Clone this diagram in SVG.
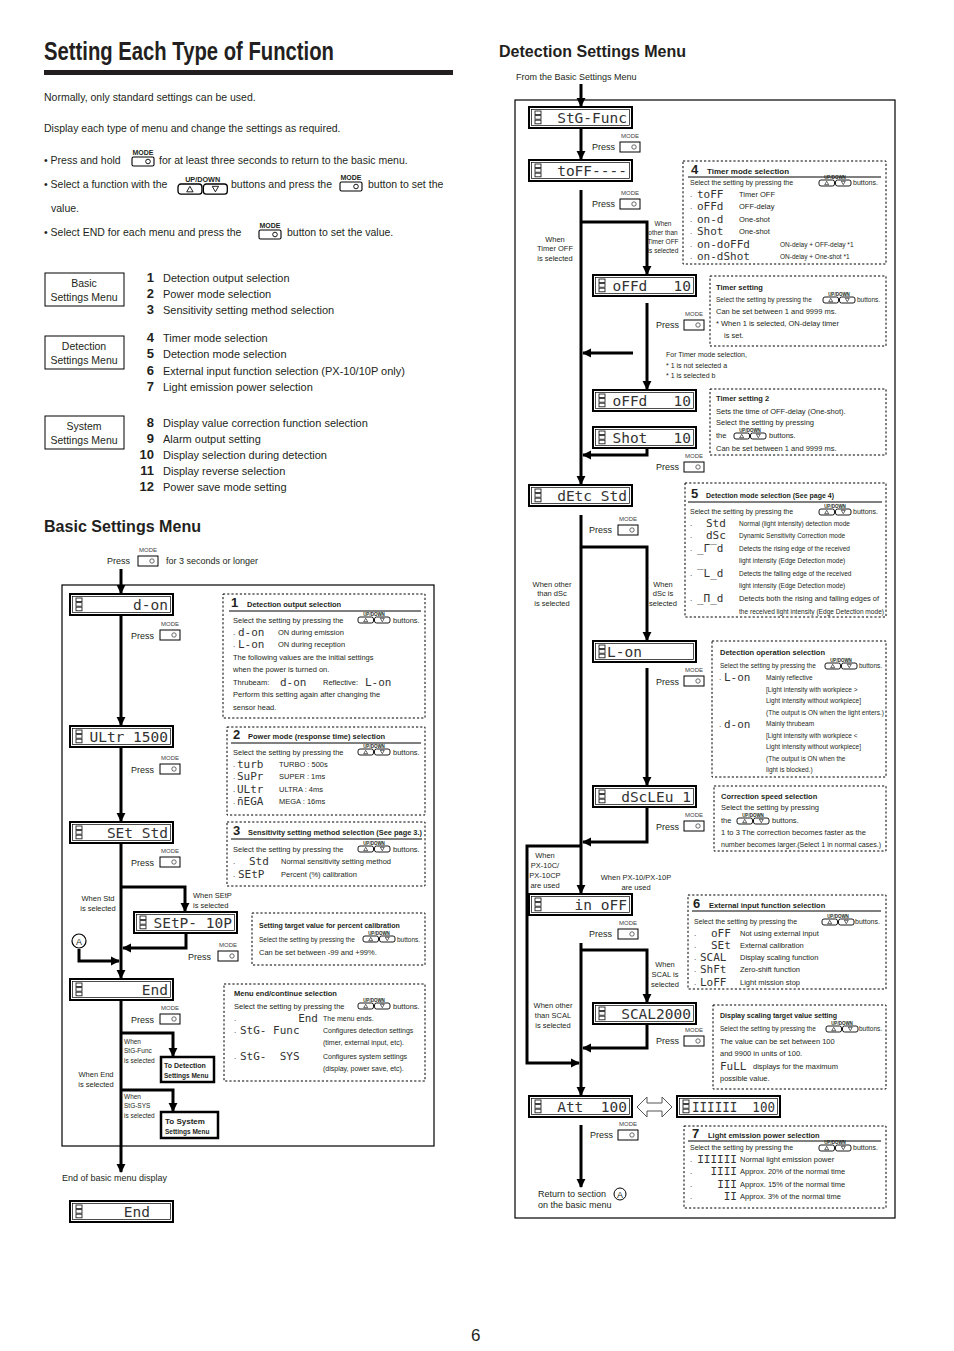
<svg xmlns="http://www.w3.org/2000/svg" xmlns:xlink="http://www.w3.org/1999/xlink" width="954" height="1351" viewBox="0 0 954 1351">
<style>
text{font-family:"Liberation Sans",Arial,sans-serif;fill:#231f20}
.b{font-weight:bold}
.f11{font-size:11px}.f10{font-size:10.5px}.f9{font-size:9px}.f8{font-size:8px}.f75{font-size:7.5px}.f7{font-size:7px}.f65{font-size:6.5px}
.sg{font-family:"DejaVu Sans Mono","Liberation Mono",monospace;font-size:11px;fill:#333}
.dt{font-family:"DejaVu Sans Mono","Liberation Mono",monospace;font-size:14.5px;fill:#333}
.num{font-weight:bold;font-size:13px}
.dbox{fill:#fff;stroke:#000;stroke-width:2}
.dinner{fill:none;stroke:#000;stroke-width:.7}
.ic{fill:none;stroke:#222;stroke-width:.9}
.fl{fill:none;stroke:#000;stroke-width:3}
.frame{fill:none;stroke:#000;stroke-width:1.2}
.dash{fill:none;stroke:#000;stroke-width:1;stroke-dasharray:2.2 2}
.ul{stroke:#000;stroke-width:1}
.box{fill:#fff;stroke:#000;stroke-width:1}
.tbox{fill:#fff;stroke:#000;stroke-width:2.5}
</style>
<defs>
<marker id="ah" viewBox="0 0 10 10" refX="9" refY="5" markerWidth="9" markerHeight="10" markerUnits="userSpaceOnUse" orient="auto"><path d="M0,0 L10,5 L0,10 z" fill="#000"/></marker>
<g id="mb"><text x="10" y="-4" text-anchor="middle" style="font-size:6px;fill:#444">MODE</text><rect x="0" y="0" width="20" height="10" fill="#fff" stroke="#000" stroke-width="1"/><circle cx="14" cy="5" r="2.2" fill="none" stroke="#444" stroke-width=".8"/></g>
<g id="mbi"><text x="11" y="-2" text-anchor="middle" style="font-size:7px;font-weight:bold">MODE</text><rect x="0" y="0" width="22" height="9" rx="1.5" fill="#fff" stroke="#000" stroke-width="1.1"/><circle cx="16" cy="4.5" r="2.3" fill="none" stroke="#000" stroke-width=".9"/></g>
<g id="ud"><text x="16" y="-1" text-anchor="middle" style="font-size:4.5px;font-weight:bold">UP/DOWN</text><rect x="0" y="0" width="15.5" height="6" rx="2" fill="#fff" stroke="#000" stroke-width=".9"/><rect x="16.5" y="0" width="15.5" height="6" rx="2" fill="#fff" stroke="#000" stroke-width=".9"/><path d="M7.7,1.3 L5.7,4.7 L9.7,4.7 z M24.3,4.7 L22.3,1.3 L26.3,1.3 z" fill="none" stroke="#000" stroke-width=".6"/></g>
<g id="udL"><text x="17" y="-1.5" text-anchor="middle" style="font-size:5px;font-weight:bold">UP/DOWN</text><rect x="0" y="0" width="16.5" height="7" rx="2" fill="#fff" stroke="#000" stroke-width=".9"/><rect x="17.5" y="0" width="16.5" height="7" rx="2" fill="#fff" stroke="#000" stroke-width=".9"/><path d="M8.2,1.6 L6,5.4 L10.4,5.4 z M25.8,5.4 L23.6,1.6 L28,1.6 z" fill="none" stroke="#000" stroke-width=".6"/></g>
<g id="di"><rect class="ic" x="0" y="0" width="6" height="3.6"/><rect class="ic" x="0" y="4.6" width="6" height="3.6"/><rect class="ic" x="0" y="9.2" width="6" height="3.6"/></g>
</defs>

<!-- header -->
<g id="header">
<text x="44" y="60" class="b" style="font-size:25px" textLength="290" lengthAdjust="spacingAndGlyphs">Setting Each Type of Function</text>
<rect x="44" y="70" width="409" height="5" fill="#231f20"/>
<text x="44" y="101" class="f10">Normally, only standard settings can be used.</text>
<text x="44" y="132" class="f10">Display each type of menu and change the settings as required.</text>
<text x="44" y="164" class="f10">• Press and hold</text>
<use href="#mbi" x="132" y="157"/>
<text x="159" y="164" class="f10">for at least three seconds to return to the basic menu.</text>
<text x="44" y="188" class="f10">• Select a function with the</text>
<g transform="translate(178,184) scale(1.45)"><use href="#udL"/></g>
<text x="231" y="188" class="f10">buttons and press the</text>
<use href="#mbi" x="340" y="182"/>
<text x="368" y="188" class="f10">button to set the</text>
<text x="51" y="212" class="f10">value.</text>
<text x="44" y="236" class="f10">• Select END for each menu and press the</text>
<use href="#mbi" x="259" y="230"/>
<text x="287" y="236" class="f10">button to set the value.</text>
</g>

<!-- menu list -->
<g id="menu-basic"><rect class="box" x="45" y="273" width="79" height="33"/><text x="84" y="287" class="f10" text-anchor="middle">Basic</text><text x="84" y="301" class="f10" text-anchor="middle">Settings Menu</text></g>
<g id="menu-detection"><rect class="box" x="45" y="336" width="79" height="33"/><text x="84" y="350" class="f10" text-anchor="middle">Detection</text><text x="84" y="364" class="f10" text-anchor="middle">Settings Menu</text></g>
<g id="menu-system"><rect class="box" x="45" y="416" width="79" height="33"/><text x="84" y="430" class="f10" text-anchor="middle">System</text><text x="84" y="444" class="f10" text-anchor="middle">Settings Menu</text></g>
<g id="menu-items">
<text x="154" y="282" class="num" text-anchor="end">1</text><text x="163" y="282" class="f11">Detection output selection</text>
<text x="154" y="298" class="num" text-anchor="end">2</text><text x="163" y="298" class="f11">Power mode selection</text>
<text x="154" y="314" class="num" text-anchor="end">3</text><text x="163" y="314" class="f11">Sensitivity setting method selection</text>
<text x="154" y="342" class="num" text-anchor="end">4</text><text x="163" y="342" class="f11">Timer mode selection</text>
<text x="154" y="358" class="num" text-anchor="end">5</text><text x="163" y="358" class="f11">Detection mode selection</text>
<text x="154" y="375" class="num" text-anchor="end">6</text><text x="163" y="375" class="f11">External input function selection (PX-10/10P only)</text>
<text x="154" y="391" class="num" text-anchor="end">7</text><text x="163" y="391" class="f11">Light emission power selection</text>
<text x="154" y="427" class="num" text-anchor="end">8</text><text x="163" y="427" class="f11">Display value correction function selection</text>
<text x="154" y="443" class="num" text-anchor="end">9</text><text x="163" y="443" class="f11">Alarm output setting</text>
<text x="154" y="459" class="num" text-anchor="end">10</text><text x="163" y="459" class="f11">Display selection during detection</text>
<text x="154" y="475" class="num" text-anchor="end">11</text><text x="163" y="475" class="f11">Display reverse selection</text>
<text x="154" y="491" class="num" text-anchor="end">12</text><text x="163" y="491" class="f11">Power save mode setting</text>
</g>

<!-- BASIC SETTINGS MENU -->
<text x="44" y="532" class="b" style="font-size:17px" textLength="157" lengthAdjust="spacingAndGlyphs">Basic Settings Menu</text>
<text x="107" y="564" class="f9">Press</text>
<use href="#mb" x="138" y="556"/>
<text x="166" y="564" class="f9">for 3 seconds or longer</text>
<rect class="frame" x="62" y="585" width="372" height="561"/>

<g id="connectors-basic">
<path class="fl" d="M121,569 V593" marker-end="url(#ah)"/>
<path class="fl" d="M121,615 V725" marker-end="url(#ah)"/>
<path class="fl" d="M121,747 V821" marker-end="url(#ah)"/>
<path class="fl" d="M121,843 V978" marker-end="url(#ah)"/>
<path class="fl" d="M121,887 H185 V911" marker-end="url(#ah)"/>
<path class="fl" d="M186,933 V948 H123" marker-end="url(#ah)"/>
<path class="fl" d="M79,949 V961 H119" marker-end="url(#ah)"/>
<path class="fl" d="M121,1000 V1172" marker-end="url(#ah)"/>
<path class="fl" d="M121,1033 H173 V1056" marker-end="url(#ah)"/>
<path class="fl" d="M121,1090 H173 V1111" marker-end="url(#ah)"/>
</g>
<g id="circleA"><circle cx="79" cy="941" r="7" fill="#fff" stroke="#000" stroke-width="1.2"/><text x="79" y="944.5" class="f9" text-anchor="middle">A</text></g>

<g id="d-on"><rect class="dbox" x="70" y="594" width="103" height="21"/><rect class="dinner" x="72.5" y="596.5" width="98" height="16"/><use href="#di" x="76" y="598"/><text class="dt" x="168" y="610" text-anchor="end" xml:space="preserve">d-on</text></g>
<g id="press1"><text x="131" y="639" class="f9">Press</text><use href="#mb" x="160" y="630"/></g>
<g id="ultr"><rect class="dbox" x="70" y="726" width="103" height="21"/><rect class="dinner" x="72.5" y="728.5" width="98" height="16"/><use href="#di" x="76" y="730"/><text class="dt" x="168" y="742" text-anchor="end" xml:space="preserve">ULtr 1500</text></g>
<g id="press2"><text x="131" y="773" class="f9">Press</text><use href="#mb" x="160" y="764"/></g>
<g id="setstd"><rect class="dbox" x="70" y="822" width="103" height="21"/><rect class="dinner" x="72.5" y="824.5" width="98" height="16"/><use href="#di" x="76" y="826"/><text class="dt" x="168" y="838" text-anchor="end" xml:space="preserve">SEt Std</text></g>
<g id="press3"><text x="131" y="866" class="f9">Press</text><use href="#mb" x="160" y="857"/></g>
<g id="setp"><rect class="dbox" x="134" y="912" width="103" height="21"/><rect class="dinner" x="136.5" y="914.5" width="98" height="16"/><use href="#di" x="140" y="916"/><text class="dt" x="232" y="928" text-anchor="end" xml:space="preserve">SEtP- 10P</text></g>
<g id="press4"><text x="188" y="960" class="f9">Press</text><use href="#mb" x="218" y="951"/></g>
<g id="end1"><rect class="dbox" x="70" y="979" width="103" height="21"/><rect class="dinner" x="72.5" y="981.5" width="98" height="16"/><use href="#di" x="76" y="983"/><text class="dt" x="168" y="995" text-anchor="end" xml:space="preserve">End</text></g>
<g id="press5"><text x="131" y="1023" class="f9">Press</text><use href="#mb" x="160" y="1014"/></g>

<g id="labels-basic">
<text x="193" y="898" class="f75">When SEtP</text><text x="193" y="908" class="f75">is selected</text>
<text x="98" y="901" class="f75" text-anchor="middle">When Std</text><text x="98" y="911" class="f75" text-anchor="middle">is selected</text>
<text x="124" y="1044" class="f65">When</text><text x="124" y="1053" class="f65">StG-Func</text><text x="124" y="1063" class="f65">is selected</text>
<text x="96" y="1077" class="f75" text-anchor="middle">When End</text><text x="96" y="1087" class="f75" text-anchor="middle">is selected</text>
<text x="124" y="1099" class="f65">When</text><text x="124" y="1108" class="f65">StG-SYS</text><text x="124" y="1118" class="f65">is selected</text>
</g>
<g id="to-detection"><rect class="tbox" x="161" y="1057" width="53" height="25"/><text x="164" y="1068" class="b f7">To Detection</text><text x="164" y="1078" class="b f65">Settings Menu</text></g>
<g id="to-system"><rect class="tbox" x="161" y="1112" width="57" height="26"/><text x="165" y="1124" class="b f8">To System</text><text x="165" y="1134" class="b f65">Settings Menu</text></g>
<text x="62" y="1181" class="f9">End of basic menu display</text>
<g id="end2"><rect class="dbox" x="70" y="1201" width="103" height="21"/><rect class="dinner" x="72.5" y="1203.5" width="98" height="16"/><use href="#di" x="76" y="1205"/><text class="dt" x="150" y="1217" text-anchor="end" xml:space="preserve">End</text></g>

<!-- basic info boxes -->
<g id="info1"><rect class="dash" x="223" y="594" width="202" height="124"/>
<text x="231" y="607" class="num">1</text><text x="247" y="607" class="b f75">Detection output selection</text>
<line class="ul" x1="229" y1="611" x2="421" y2="611"/>
<text x="233" y="623" class="f75">Select the setting by pressing the</text><use href="#ud" x="358" y="617"/><text x="393" y="623" class="f75">buttons.</text>
<text x="233" y="635" class="f8">.</text><text x="238" y="636" class="sg">d-on</text><text x="278" y="635" class="f75">ON during emission</text>
<text x="233" y="647" class="f8">.</text><text x="238" y="648" class="sg">L-on</text><text x="278" y="647" class="f75">ON during reception</text>
<text x="233" y="660" class="f75">The following values are the initial settings</text>
<text x="233" y="672" class="f75">when the power is turned on.</text>
<text x="233" y="685" class="f75">Thrubeam:</text><text x="280" y="686" class="sg">d-on</text><text x="323" y="685" class="f75">Reflective:</text><text x="365" y="686" class="sg">L-on</text>
<text x="233" y="697" class="f75">Perform this setting again after changing the</text>
<text x="233" y="710" class="f75">sensor head.</text>
</g>
<g id="info2"><rect class="dash" x="227" y="727" width="198" height="88"/>
<text x="233" y="739" class="num">2</text><text x="248" y="739" class="b f75">Power mode (response time) selection</text>
<line class="ul" x1="231" y1="743" x2="421" y2="743"/>
<text x="233" y="755" class="f75">Select the setting by pressing the</text><use href="#ud" x="358" y="749"/><text x="393" y="755" class="f75">buttons.</text>
<text x="233" y="767" class="f8">.</text><text x="237" y="768" class="sg">turb</text><text x="279" y="767" class="f75">TURBO :  500s</text>
<text x="233" y="779" class="f8">.</text><text x="237" y="780" class="sg">SuPr</text><text x="279" y="779" class="f75">SUPER :  1ms</text>
<text x="233" y="792" class="f8">.</text><text x="237" y="793" class="sg">ULtr</text><text x="279" y="792" class="f75">ULTRA : 4ms</text>
<text x="233" y="804" class="f8">.</text><text x="237" y="805" class="sg">n̄EGA</text><text x="279" y="804" class="f75">MEGA : 16ms</text>
</g>
<g id="info3"><rect class="dash" x="227" y="822" width="198" height="64"/>
<text x="233" y="835" class="num">3</text><text x="248" y="835" class="b f65" textLength="174" lengthAdjust="spacingAndGlyphs">Sensitivity setting method selection (See page 3.)</text>
<line class="ul" x1="231" y1="839" x2="422" y2="839"/>
<text x="233" y="852" class="f75">Select the setting by pressing the</text><use href="#ud" x="358" y="846"/><text x="393" y="852" class="f75">buttons.</text>
<text x="233" y="864" class="f8">.</text><text x="249" y="865" class="sg">Std</text><text x="281" y="864" class="f75">Normal sensitivity setting method</text>
<text x="233" y="877" class="f8">.</text><text x="238" y="878" class="sg">SEtP</text><text x="281" y="877" class="f75">Percent (%) calibration</text>
</g>
<g id="info4"><rect class="dash" x="252" y="913" width="173" height="52"/>
<text x="259" y="928" class="b f7">Setting target value for percent calibration</text>
<text x="259" y="942" class="f65">Select the setting by pressing the</text><use href="#ud" x="363" y="936"/><text x="397" y="942" class="f65">buttons.</text>
<text x="259" y="955" class="f75">Can be set between -99 and +99%.</text>
</g>
<g id="info5"><rect class="dash" x="224" y="984" width="201" height="97"/>
<text x="234" y="996" class="b f75">Menu end/continue selection</text>
<text x="234" y="1009" class="f75">Select the setting by pressing the</text><use href="#ud" x="358" y="1003"/><text x="393" y="1009" class="f75">buttons.</text>
<text x="234" y="1021" class="f8">.</text><text x="318" y="1022" class="sg" text-anchor="end">End</text><text x="323" y="1021" class="f7">The menu ends.</text>
<text x="234" y="1033" class="f8">.</text><text x="240" y="1034" class="sg">StG- Func</text><text x="323" y="1033" class="f7">Configures detection settings</text>
<text x="323" y="1045" class="f7">(timer, external input, etc).</text>
<text x="234" y="1059" class="f8">.</text><text x="240" y="1060" class="sg" xml:space="preserve">StG-  SYS</text><text x="323" y="1059" class="f7">Configures system settings</text>
<text x="323" y="1071" class="f7">(display, power save, etc).</text>
</g>

<!-- DETECTION SETTINGS MENU -->
<text x="499" y="57" class="b" style="font-size:17px" textLength="187" lengthAdjust="spacingAndGlyphs">Detection Settings Menu</text>
<text x="516" y="80" class="f9">From the Basic Settings Menu</text>
<rect class="frame" x="515" y="100" width="380" height="1118"/>

<g id="connectors-detection">
<path class="fl" d="M581,84 V106" marker-end="url(#ah)"/>
<path class="fl" d="M581,128 V159" marker-end="url(#ah)"/>
<path class="fl" d="M581,190 V484" marker-end="url(#ah)"/>
<path class="fl" d="M581,222 H647 V274" marker-end="url(#ah)"/>
<path class="fl" d="M647,303 V389" marker-end="url(#ah)"/>
<path class="fl" d="M633,353 H583" marker-end="url(#ah)"/>
<path class="fl" d="M647,448 V455 H583" marker-end="url(#ah)"/>
<path class="fl" d="M581,515 V893" marker-end="url(#ah)"/>
<path class="fl" d="M581,547 H647 V640" marker-end="url(#ah)"/>
<path class="fl" d="M647,668 V785" marker-end="url(#ah)"/>
<path class="fl" d="M647,808 V842 H583" marker-end="url(#ah)"/>
<path class="fl" d="M581,846 H527 V1063 H579" marker-end="url(#ah)"/>
<path class="fl" d="M581,943 V1095" marker-end="url(#ah)"/>
<path class="fl" d="M581,950 H647 V1002" marker-end="url(#ah)"/>
<path class="fl" d="M647,1025 V1048 H583" marker-end="url(#ah)"/>
<path class="fl" d="M581,1125 V1187" marker-end="url(#ah)"/>
<path d="M637,1107 L647,1097 V1103 H662 V1097 L672,1107 L662,1117 V1111 H647 V1117 Z" fill="#fff" stroke="#555" stroke-width="1"/>
</g>

<g id="stgfunc"><rect class="dbox" x="529" y="107" width="103" height="21"/><rect class="dinner" x="531.5" y="109.5" width="98" height="16"/><use href="#di" x="535" y="111"/><text class="dt" x="627" y="123" text-anchor="end" xml:space="preserve">StG-Func</text></g>
<g id="pressR1"><text x="592" y="150" class="f9">Press</text><use href="#mb" x="620" y="142"/></g>
<g id="toff"><rect class="dbox" x="529" y="160" width="103" height="21"/><rect class="dinner" x="531.5" y="162.5" width="98" height="16"/><use href="#di" x="535" y="164"/><text class="dt" x="627" y="176" text-anchor="end" xml:space="preserve">toFF----</text></g>
<g id="pressR2"><text x="592" y="207" class="f9">Press</text><use href="#mb" x="620" y="199"/></g>
<g id="offd1"><rect class="dbox" x="593" y="275" width="103" height="21"/><rect class="dinner" x="595.5" y="277.5" width="98" height="16"/><use href="#di" x="599" y="279"/><text class="dt" x="691" y="291" text-anchor="end" xml:space="preserve">oFFd   10</text></g>
<g id="pressR3"><text x="656" y="328" class="f9">Press</text><use href="#mb" x="684" y="320"/></g>
<g id="offd2"><rect class="dbox" x="593" y="390" width="103" height="21"/><rect class="dinner" x="595.5" y="392.5" width="98" height="16"/><use href="#di" x="599" y="394"/><text class="dt" x="691" y="406" text-anchor="end" xml:space="preserve">oFFd   10</text></g>
<g id="shot"><rect class="dbox" x="593" y="427" width="103" height="21"/><rect class="dinner" x="595.5" y="429.5" width="98" height="16"/><use href="#di" x="599" y="431"/><text class="dt" x="691" y="443" text-anchor="end" xml:space="preserve">Shot   10</text></g>
<g id="pressR4"><text x="656" y="470" class="f9">Press</text><use href="#mb" x="684" y="462"/></g>
<g id="detc"><rect class="dbox" x="529" y="485" width="103" height="21"/><rect class="dinner" x="531.5" y="487.5" width="98" height="16"/><use href="#di" x="535" y="489"/><text class="dt" x="627" y="501" text-anchor="end" xml:space="preserve">dEtc Std</text></g>
<g id="pressR5"><text x="589" y="533" class="f9">Press</text><use href="#mb" x="618" y="525"/></g>
<g id="lon"><rect class="dbox" x="593" y="641" width="103" height="21"/><rect class="dinner" x="595.5" y="643.5" width="98" height="16"/><use href="#di" x="599" y="645"/><text class="dt" x="607" y="657" xml:space="preserve">L-on</text></g>
<g id="pressR6"><text x="656" y="685" class="f9">Press</text><use href="#mb" x="684" y="676"/></g>
<g id="dsclev"><rect class="dbox" x="593" y="786" width="103" height="21"/><rect class="dinner" x="595.5" y="788.5" width="98" height="16"/><use href="#di" x="599" y="790"/><text class="dt" x="691" y="802" text-anchor="end" xml:space="preserve">dScLEu 1</text></g>
<g id="pressR7"><text x="656" y="830" class="f9">Press</text><use href="#mb" x="684" y="821"/></g>
<g id="inoff"><rect class="dbox" x="529" y="894" width="103" height="21"/><rect class="dinner" x="531.5" y="896.5" width="98" height="16"/><use href="#di" x="535" y="898"/><text class="dt" x="627" y="910" text-anchor="end" xml:space="preserve">in oFF</text></g>
<g id="pressR8"><text x="589" y="937" class="f9">Press</text><use href="#mb" x="618" y="929"/></g>
<g id="scal"><rect class="dbox" x="593" y="1003" width="103" height="21"/><rect class="dinner" x="595.5" y="1005.5" width="98" height="16"/><use href="#di" x="599" y="1007"/><text class="dt" x="691" y="1019" text-anchor="end" xml:space="preserve">SCAL2000</text></g>
<g id="pressR9"><text x="656" y="1044" class="f9">Press</text><use href="#mb" x="684" y="1036"/></g>
<g id="att"><rect class="dbox" x="529" y="1096" width="103" height="21"/><rect class="dinner" x="531.5" y="1098.5" width="98" height="16"/><use href="#di" x="535" y="1100"/><text class="dt" x="627" y="1112" text-anchor="end" xml:space="preserve">Att  100</text></g>
<g id="bars"><rect class="dbox" x="677" y="1096" width="103" height="21"/><rect class="dinner" x="679.5" y="1098.5" width="98" height="16"/><use href="#di" x="683" y="1100"/><text class="dt" x="692" y="1112" textLength="83" lengthAdjust="spacingAndGlyphs" xml:space="preserve">IIIIII  100</text></g>
<g id="pressR10"><text x="590" y="1138" class="f9">Press</text><use href="#mb" x="618" y="1130"/></g>

<g id="labels-detection">
<text x="663" y="226" class="f65" text-anchor="middle">When</text><text x="663" y="235" class="f65" text-anchor="middle">other than</text><text x="663" y="244" class="f65" text-anchor="middle">Timer OFF</text><text x="663" y="253" class="f65" text-anchor="middle">is selected</text>
<text x="555" y="242" class="f75" text-anchor="middle">When</text><text x="555" y="251" class="f75" text-anchor="middle">Timer OFF</text><text x="555" y="261" class="f75" text-anchor="middle">is selected</text>
<text x="666" y="357" class="f7">For Timer mode selection,</text><text x="666" y="368" class="f7">* 1 is not selected  a</text><text x="666" y="378" class="f7">* 1 is selected  b</text>
<text x="552" y="587" class="f75" text-anchor="middle">When other</text><text x="552" y="596" class="f75" text-anchor="middle">than dSc</text><text x="552" y="606" class="f75" text-anchor="middle">is selected</text>
<text x="663" y="587" class="f75" text-anchor="middle">When</text><text x="663" y="596" class="f75" text-anchor="middle">dSc is</text><text x="663" y="606" class="f75" text-anchor="middle">selected</text>
<text x="545" y="858" class="f75" text-anchor="middle">When</text><text x="545" y="868" class="f75" text-anchor="middle">PX-10C/</text><text x="545" y="878" class="f75" text-anchor="middle">PX-10CP</text><text x="545" y="888" class="f75" text-anchor="middle">are used</text>
<text x="636" y="880" class="f75" text-anchor="middle">When PX-10/PX-10P</text><text x="636" y="890" class="f75" text-anchor="middle">are used</text>
<text x="665" y="967" class="f75" text-anchor="middle">When</text><text x="665" y="977" class="f75" text-anchor="middle">SCAL is</text><text x="665" y="987" class="f75" text-anchor="middle">selected</text>
<text x="553" y="1008" class="f75" text-anchor="middle">When other</text><text x="553" y="1018" class="f75" text-anchor="middle">than SCAL</text><text x="553" y="1028" class="f75" text-anchor="middle">is selected</text>
<text x="538" y="1197" class="f9">Return to section</text>
<circle cx="620" cy="1194" r="6" fill="#fff" stroke="#000" stroke-width="1"/><text x="620" y="1197.5" class="f9" text-anchor="middle">A</text>
<text x="538" y="1208" class="f9">on the basic menu</text>
</g>

<g id="info-timer-mode"><rect class="dash" x="683" y="161" width="203" height="103"/>
<text x="691" y="174" class="num">4</text><text x="707" y="174" class="b f8">Timer mode selection</text>
<line class="ul" x1="688" y1="177" x2="881" y2="177"/>
<text x="690" y="185" class="f7">Select the setting by pressing the</text><use href="#ud" x="819" y="180"/><text x="853" y="185" class="f7">buttons.</text>
<text x="690" y="197" class="f8">.</text><text x="697" y="198" class="sg">toFF</text><text x="739" y="197" class="f75">Timer OFF</text>
<text x="690" y="209" class="f8">.</text><text x="697" y="210" class="sg">oFFd</text><text x="739" y="209" class="f75">OFF-delay</text>
<text x="690" y="222" class="f8">.</text><text x="697" y="223" class="sg">on-d</text><text x="739" y="222" class="f75">One-shot</text>
<text x="690" y="234" class="f8">.</text><text x="697" y="235" class="sg">Shot</text><text x="739" y="234" class="f75">One-shot</text>
<text x="690" y="247" class="f8">.</text><text x="697" y="248" class="sg">on-doFFd</text><text x="780" y="247" class="f65">ON-delay + OFF-delay *1</text>
<text x="690" y="259" class="f8">.</text><text x="697" y="260" class="sg">on-dShot</text><text x="780" y="259" class="f65">ON-delay + One-shot *1</text>
</g>
<g id="info-timer"><rect class="dash" x="710" y="276" width="176" height="70"/>
<text x="716" y="290" class="b f75">Timer setting</text>
<text x="716" y="302" class="f65">Select the setting by pressing the</text><use href="#ud" x="823" y="297"/><text x="857" y="302" class="f65">buttons.</text>
<text x="716" y="314" class="f75">Can be set between 1 and 9999 ms.</text>
<text x="716" y="326" class="f75">* When 1 is selected, ON-delay timer</text>
<text x="724" y="338" class="f75">is set.</text>
</g>
<g id="info-timer2"><rect class="dash" x="710" y="389" width="176" height="66"/>
<text x="716" y="401" class="b f75">Timer setting 2</text>
<text x="716" y="414" class="f75">Sets the time of OFF-delay (One-shot).</text>
<text x="716" y="425" class="f75">Select the setting by pressing</text>
<text x="716" y="438" class="f75">the</text><use href="#ud" x="734" y="433"/><text x="769" y="438" class="f75">buttons.</text>
<text x="716" y="451" class="f75">Can be set between 1 and 9999 ms.</text>
</g>
<g id="info-detmode"><rect class="dash" x="685" y="483" width="201" height="134"/>
<text x="691" y="498" class="num">5</text><text x="706" y="498" class="b f7">Detection mode selection (See page 4)</text>
<line class="ul" x1="688" y1="502" x2="882" y2="502"/>
<text x="690" y="514" class="f7">Select the setting by pressing the</text><use href="#ud" x="819" y="509"/><text x="853" y="514" class="f7">buttons.</text>
<text x="690" y="526" class="f8">.</text><text x="706" y="527" class="sg">Std</text><text x="739" y="526" class="f65">Normal (light intensity) detection mode</text>
<text x="690" y="538" class="f8">.</text><text x="706" y="539" class="sg">dSc</text><text x="739" y="538" class="f65">Dynamic Sensitivity Correction mode</text>
<text x="690" y="551" class="f8">.</text><text x="697" y="552" class="sg">_Γ‾d</text><text x="739" y="551" class="f65">Detects the rising edge of the received</text>
<text x="739" y="563" class="f65">light intensity (Edge Detection mode)</text>
<text x="690" y="576" class="f8">.</text><text x="697" y="577" class="sg">‾L_d</text><text x="739" y="576" class="f65">Detects the falling edge of the received</text>
<text x="739" y="588" class="f65">light intensity (Edge Detection mode)</text>
<text x="690" y="601" class="f8">.</text><text x="697" y="602" class="sg">_Π_d</text><text x="739" y="601" class="f65" textLength="140" lengthAdjust="spacingAndGlyphs">Detects both the rising and falling edges of</text>
<text x="739" y="614" class="f65" textLength="145" lengthAdjust="spacingAndGlyphs">the received light intensity (Edge Detection mode)</text>
</g>
<g id="info-detop"><rect class="dash" x="712" y="641" width="174" height="136"/>
<text x="720" y="655" class="b f75">Detection operation selection</text>
<text x="720" y="668" class="f65">Select the setting by pressing the</text><use href="#ud" x="825" y="663"/><text x="859" y="668" class="f65">buttons.</text>
<text x="719" y="680" class="f8">.</text><text x="724" y="681" class="sg">L-on</text><text x="766" y="680" class="f65">Mainly reflective</text>
<text x="766" y="692" class="f65">[Light intensity with workpiece &gt;</text>
<text x="766" y="703" class="f65">Light intensity without workpiece]</text>
<text x="766" y="715" class="f65" textLength="118" lengthAdjust="spacingAndGlyphs">(The output is ON when the light enters.)</text>
<text x="719" y="727" class="f8">.</text><text x="724" y="728" class="sg">d-on</text><text x="766" y="726" class="f65">Mainly thrubeam</text>
<text x="766" y="738" class="f65">[Light intensity with workpiece &lt;</text>
<text x="766" y="749" class="f65">Light intensity without workpiece]</text>
<text x="766" y="761" class="f65">(The output is ON when the</text>
<text x="766" y="772" class="f65">light is blocked.)</text>
</g>
<g id="info-corr"><rect class="dash" x="714" y="786" width="172" height="65"/>
<text x="721" y="799" class="b f75">Correction speed selection</text>
<text x="721" y="810" class="f75">Select the setting by pressing</text>
<text x="721" y="823" class="f75">the</text><use href="#ud" x="737" y="818"/><text x="772" y="823" class="f75">buttons.</text>
<text x="721" y="835" class="f65" textLength="145" lengthAdjust="spacingAndGlyphs">1 to 3 The correction becomes faster as the</text>
<text x="721" y="847" class="f65" textLength="160" lengthAdjust="spacingAndGlyphs">number becomes larger.(Select 1 in normal cases.)</text>
</g>
<g id="info-ext"><rect class="dash" x="688" y="895" width="198" height="94"/>
<text x="693" y="908" class="num">6</text><text x="709" y="908" class="b f75">External input function selection</text>
<line class="ul" x1="692" y1="911" x2="881" y2="911"/>
<text x="694" y="924" class="f7">Select the setting by pressing the</text><use href="#ud" x="822" y="919"/><text x="855" y="924" class="f7">buttons.</text>
<text x="694" y="936" class="f8">.</text><text x="711" y="937" class="sg">oFF</text><text x="740" y="936" class="f75">Not using external input</text>
<text x="694" y="948" class="f8">.</text><text x="711" y="949" class="sg">SEt</text><text x="740" y="948" class="f75">External calibration</text>
<text x="694" y="960" class="f8">.</text><text x="700" y="961" class="sg">SCAL</text><text x="740" y="960" class="f75">Display scaling function</text>
<text x="694" y="972" class="f8">.</text><text x="700" y="973" class="sg">ShFt</text><text x="740" y="972" class="f75">Zero-shift function</text>
<text x="694" y="985" class="f8">.</text><text x="700" y="986" class="sg">LoFF</text><text x="740" y="985" class="f75">Light mission stop</text>
</g>
<g id="info-scal"><rect class="dash" x="713" y="1005" width="173" height="84"/>
<text x="720" y="1018" class="b f7">Display scaling target value setting</text>
<text x="720" y="1031" class="f65">Select the setting by pressing the</text><use href="#ud" x="826" y="1026"/><text x="859" y="1031" class="f65">buttons.</text>
<text x="720" y="1044" class="f75">The value can be set between 100</text>
<text x="720" y="1056" class="f75">and 9900 in units of 100.</text>
<text x="720" y="1070" class="sg">FuLL</text><text x="753" y="1069" class="f75">displays for the maximum</text>
<text x="720" y="1081" class="f75">possible value.</text>
</g>
<g id="info-light"><rect class="dash" x="684" y="1126" width="202" height="82"/>
<text x="692" y="1138" class="num">7</text><text x="708" y="1138" class="b f75">Light emission power selection</text>
<line class="ul" x1="688" y1="1141" x2="881" y2="1141"/>
<text x="690" y="1150" class="f7">Select the setting by pressing the</text><use href="#ud" x="819" y="1145"/><text x="853" y="1150" class="f7">buttons.</text>
<text x="690" y="1162" class="f8">.</text><text x="737" y="1163" class="sg" text-anchor="end">IIIIII</text><text x="740" y="1162" class="f75">Normal light emission power</text>
<text x="690" y="1174" class="f8">.</text><text x="737" y="1175" class="sg" text-anchor="end">IIII</text><text x="740" y="1174" class="f75">Approx. 20% of the normal time</text>
<text x="690" y="1187" class="f8">.</text><text x="737" y="1188" class="sg" text-anchor="end">III</text><text x="740" y="1187" class="f75">Approx. 15% of the normal time</text>
<text x="690" y="1199" class="f8">.</text><text x="737" y="1200" class="sg" text-anchor="end">II</text><text x="740" y="1199" class="f75">Approx. 3% of the normal time</text>
</g>

<text x="471" y="1341" style="font-size:17px">6</text>
</svg>
